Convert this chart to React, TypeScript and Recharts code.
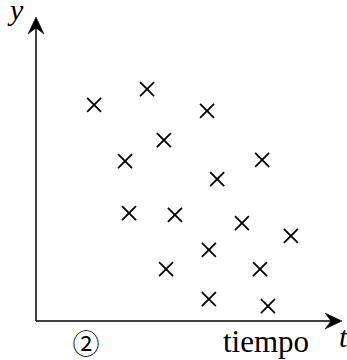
import React from "react";
import { ScatterChart, Scatter, XAxis, YAxis, ReferenceLine } from "recharts";

const tValues = [1.9, 3.63, 5.59, 4.18, 2.91, 7.39, 5.92, 3.04, 4.54, 6.73, 8.33, 5.65, 4.25, 7.32, 5.65, 7.58];
const yValues = [7.11, 7.63, 6.91, 5.95, 5.26, 5.3, 4.67, 3.55, 3.49, 3.22, 2.8, 2.34, 1.71, 1.71, 0.72, 0.49];
const axisLabels = { y: "y", t: "t", caption: "tiempo", number: "②" };

const data = tValues.map((t, i) => ({ t, y: yValues[i] }));

const Cross = (props: any) => {
  const { cx, cy } = props;
  const h = 7;
  return (
    <g stroke="#000" strokeWidth={1.8} strokeLinecap="butt">
      <line x1={cx - h} y1={cy - h} x2={cx + h} y2={cy + h} />
      <line x1={cx - h} y1={cy + h} x2={cx + h} y2={cy - h} />
    </g>
  );
};

const ArrowLine = (props: any) => {
  const { x1, y1, x2, y2 } = props;
  const dx = x2 - x1;
  const dy = y2 - y1;
  const len = Math.sqrt(dx * dx + dy * dy) || 1;
  const ux = dx / len;
  const uy = dy / len;
  const nx = -uy;
  const ny = ux;
  const L = 17;
  const W = 8;
  const N = 11;
  const bx = x2 - ux * L;
  const by = y2 - uy * L;
  const notchX = x2 - ux * N;
  const notchY = y2 - uy * N;
  const d = `M${x2},${y2} L${bx + nx * W},${by + ny * W} L${notchX},${notchY} L${bx - nx * W},${by - ny * W} Z`;
  return (
    <g>
      <line x1={x1} y1={y1} x2={notchX} y2={notchY} stroke="#000" strokeWidth={1.5} />
      <path d={d} fill="#000" stroke="#000" strokeWidth={0.5} strokeLinejoin="miter" />
    </g>
  );
};

export default function App() {
  return (
    <div style={{ position: "absolute", left: 0, top: 0, width: 347, height: 360, background: "#fff" }}>
      <ScatterChart width={347} height={360} margin={{ top: 17, left: 36, right: 5, bottom: 39 }}>
        <XAxis type="number" dataKey="t" domain={[0, 10]} hide />
        <YAxis type="number" dataKey="y" domain={[0, 10]} hide />
        <ReferenceLine
          segment={[{ x: 0, y: 0 }, { x: 10, y: 0 }]}
          ifOverflow="visible"
          shape={<ArrowLine />}
        />
        <ReferenceLine
          segment={[{ x: 0, y: 0 }, { x: 0, y: 10 }]}
          ifOverflow="visible"
          shape={<ArrowLine />}
        />
        <Scatter data={data} shape={<Cross />} isAnimationActive={false} />
      </ScatterChart>
      <svg width={347} height={360} style={{ position: "absolute", left: 0, top: 0, pointerEvents: "none" }}>
        <text x={10} y={20} fontFamily="Liberation Serif" fontStyle="italic" fontSize={30} fill="#000">
          {axisLabels.y}
        </text>
        <text x={339} y={347} fontFamily="Liberation Serif" fontStyle="italic" fontSize={30} fill="#000">
          {axisLabels.t}
        </text>
        <text x={223} y={352} fontFamily="Liberation Serif" fontSize={31} fill="#000">
          {axisLabels.caption}
        </text>
        <text x={86} y={354} textAnchor="middle" fontFamily="Noto Sans CJK JP" fontSize={27} fill="#000">
          {axisLabels.number}
        </text>
      </svg>
    </div>
  );
}
